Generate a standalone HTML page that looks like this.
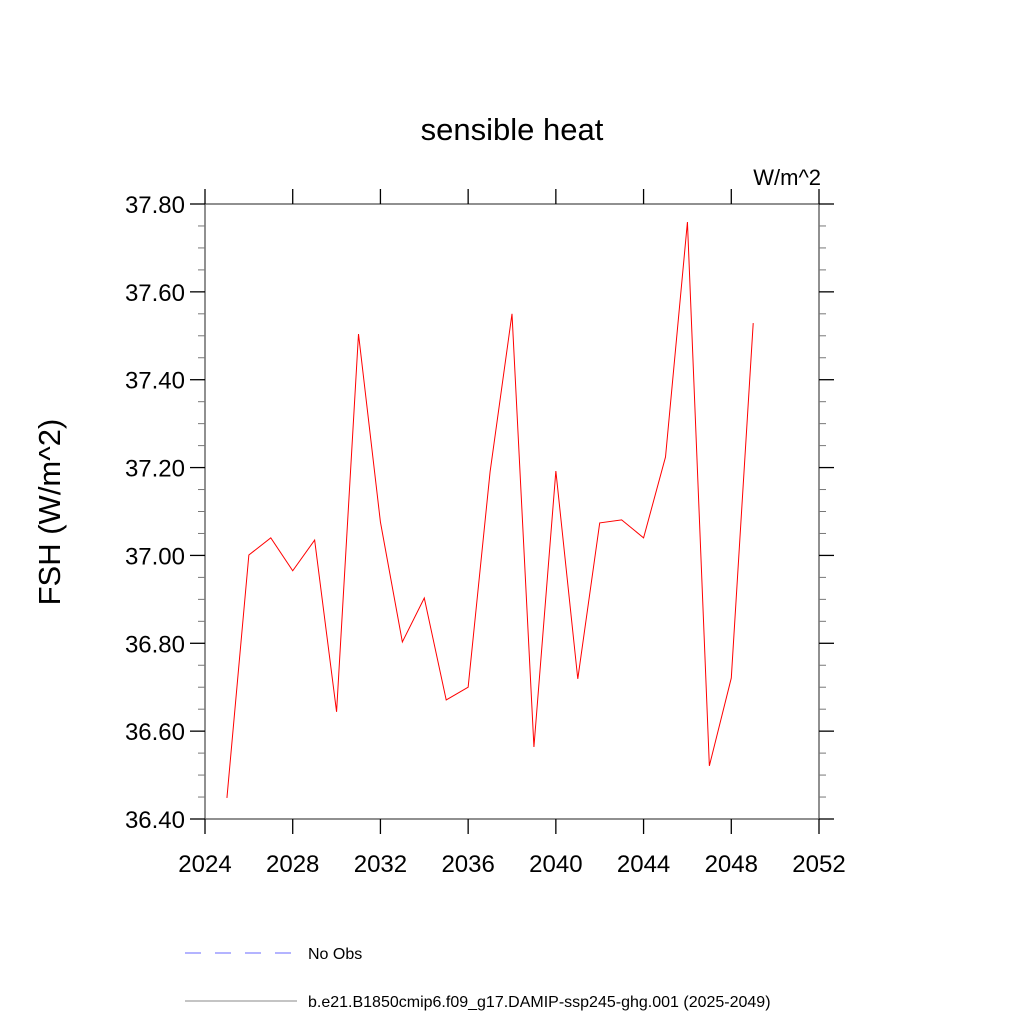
<!DOCTYPE html>
<html><head><meta charset="utf-8"><style>
body{margin:0;background:#fff}
svg{display:block;font-family:"Liberation Sans",sans-serif}
</style></head><body>
<svg id="chart" width="1024" height="1024">
<text x="512" y="140" font-size="31" text-anchor="middle">sensible heat</text>
<text x="821" y="185" font-size="22" text-anchor="end">W/m^2</text>
<text transform="translate(60,512) rotate(-90)" font-size="31" text-anchor="middle">FSH  (W/m^2)</text>
<g id="axes"></g>
<g id="series"></g>
<g>
<line x1="185" y1="953" x2="292" y2="953" stroke="#6a6aff" stroke-width="1" stroke-dasharray="16,14"/>
<text x="308" y="959" font-size="16">No Obs</text>
<line x1="185" y1="1001" x2="297" y2="1001" stroke="#888" stroke-width="1"/>
<text x="308" y="1007" font-size="16">b.e21.B1850cmip6.f09_g17.DAMIP-ssp245-ghg.001 (2025-2049)</text>
</g>
</svg>
<script>
const years=[2025,2026,2027,2028,2029,2030,2031,2032,2033,2034,2035,2036,2037,2038,2039,2040,2041,2042,2043,2044,2045,2046,2047,2048,2049];
const values=[36.448,37.001,37.040,36.965,37.035,36.644,37.504,37.076,36.803,36.903,36.671,36.700,37.190,37.550,36.564,37.192,36.719,37.074,37.081,37.040,37.224,37.759,36.521,36.721,37.529];
const xTicks=[2024,2028,2032,2036,2040,2044,2048,2052];
const yTicks=[36.4,36.6,36.8,37.0,37.2,37.4,37.6,37.8];
const L=205,R=819,T=204,B=819;
const X=v=>L+(v-2024)/(2052-2024)*(R-L);
const Y=v=>B-(v-36.4)/(37.8-36.4)*(B-T);
const NS="http://www.w3.org/2000/svg";
const ax=document.getElementById('axes');
function ln(x1,y1,x2,y2,c,w,name){const e=document.createElementNS(NS,'line');
e.setAttribute('x1',x1);e.setAttribute('y1',y1);e.setAttribute('x2',x2);e.setAttribute('y2',y2);
e.setAttribute('stroke',c);e.setAttribute('stroke-width',w);


ax.appendChild(e);return e;}
function tx(x,y,s,anchor,name){const e=document.createElementNS(NS,'text');
e.setAttribute('x',x);e.setAttribute('y',y);e.setAttribute('font-size','24');e.setAttribute('text-anchor',anchor);e.textContent=s;


ax.appendChild(e);}
const fr=document.createElementNS(NS,'rect');
fr.setAttribute('x',L);fr.setAttribute('y',T);fr.setAttribute('width',R-L);fr.setAttribute('height',B-T);
fr.setAttribute('fill','none');fr.setAttribute('stroke','#555');fr.setAttribute('stroke-width','1.3');


ax.appendChild(fr);
xTicks.forEach(v=>{const x=X(v);ln(x,B,x,B+15,'#000',1.3,'x-tick');ln(x,T,x,T-15,'#000',1.3,'x-tick-top');tx(x,B+53,String(v),'middle','x-tick-label');});
yTicks.forEach(v=>{const y=Y(v);ln(L,y,L-15,y,'#000',1.3,'y-tick');ln(R,y,R+15,y,'#000',1.3,'y-tick-right');tx(L-20,y+9,v.toFixed(2),'end','y-tick-label');});
for(let v=36.4;v<37.8;v+=0.05){const k=Math.round((v-36.4)/0.05);if(k%4===0)continue;const y=Y(v);
ln(L,y,L-7,y,'#777',1,'y-minor-tick');ln(R,y,R+7,y,'#777',1,'y-minor-tick-right');}
const p=document.createElementNS(NS,'polyline');
p.setAttribute('points',years.map((yr,i)=>X(yr)+','+Y(values[i])).join(' '));
p.setAttribute('fill','none');p.setAttribute('stroke','#ff0000');p.setAttribute('stroke-width','1');


document.getElementById('series').appendChild(p);
</script>
</body></html>
